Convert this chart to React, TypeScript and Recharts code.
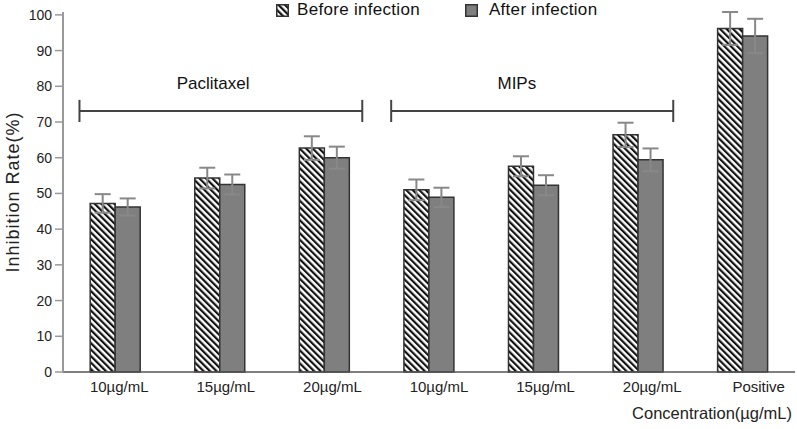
import React from 'react';
import { BarChart, Bar, XAxis, YAxis, ErrorBar, ReferenceLine, ReferenceDot } from 'recharts';

const categories = ['10µg/mL', '15µg/mL', '20µg/mL', '10µg/mL', '15µg/mL', '20µg/mL', 'Positive'];
const beforeValues = [47.2, 54.3, 62.7, 51.0, 57.6, 66.4, 96.2];
const afterValues = [46.2, 52.5, 60.0, 48.9, 52.3, 59.4, 94.1];
const beforeErrors = [2.6, 2.9, 3.3, 2.9, 2.8, 3.4, 4.6];
const afterErrors = [2.4, 2.8, 3.1, 2.7, 2.8, 3.2, 4.8];
const yTicks = [0, 10, 20, 30, 40, 50, 60, 70, 80, 90, 100];
const groupLabels = ['Paclitaxel', 'MIPs'];
// positions along the hidden numeric axis (spans the plot width)
const groupStarts = [0.135, 2.69];
const groupEnds = [2.453, 5.002];
const groupLabelPos = [1.23, 3.72];
const groupLabelValue = 81;
const bracketValue = 73.1;
const bracketHalf = 3.1;

const data = categories.map((name, i) => ({
  name,
  before: beforeValues[i],
  after: afterValues[i],
  beforeErr: beforeErrors[i],
  afterErr: afterErrors[i],
}));

const FONT = '"Liberation Sans", Arial, sans-serif';

const XTick = (props: any) => {
  const { x, y, payload, index } = props;
  const dx = 4 + index * 2;
  return (
    <text x={x + dx} y={y} dy={12} textAnchor="middle" fontSize={15} fontFamily={FONT} fill="#222">
      {payload.value}
    </text>
  );
};

export default function App() {
  return (
    <div style={{ position: 'absolute', left: 0, top: 0, width: 797, height: 429, background: '#fff' }}>
      <BarChart
        width={797}
        height={429}
        data={data}
        margin={{ top: 12, right: 2, bottom: 7, left: 0 }}
        barGap={0}
        barCategoryGap="26%"
      >
        <defs>
          <pattern id="hatch" patternUnits="userSpaceOnUse" width={4.6} height={4.6} patternTransform="rotate(-45)">
            <rect x={0} y={0} width={4.6} height={4.6} fill="#fff" />
            <rect x={0} y={0} width={2.2} height={4.6} fill="#111" />
          </pattern>
        </defs>
        <XAxis
          dataKey="name"
          tick={<XTick />}
          tickLine={false}
          axisLine={{ stroke: '#555', strokeWidth: 1.5 }}
          height={50}
          interval={0}
          label={{ value: 'Concentration(µg/mL)', position: 'insideBottomRight', offset: 3, fontSize: 16.5, fontFamily: FONT, fill: '#222' }}
        />
        <XAxis xAxisId="num" type="number" domain={[0, 6]} hide allowDataOverflow />
        <YAxis
          width={63}
          domain={[0, 100]}
          ticks={yTicks}
          interval={0}
          tickSize={8}
          tickMargin={3}
          tick={{ fontSize: 14, fontFamily: FONT, fill: '#222' }}
          tickLine={{ stroke: '#999', strokeWidth: 1.5 }}
          axisLine={{ stroke: '#999', strokeWidth: 2 }}
          label={{
            value: 'Inhibition Rate(%)',
            angle: -90,
            position: 'insideLeft',
            offset: 13,
            fontSize: 18,
            fontFamily: FONT,
            fill: '#222',
            style: { textAnchor: 'middle', letterSpacing: 1 },
          }}
        />
        <Bar dataKey="before" fill="url(#hatch)" stroke="#333" strokeWidth={1.5} isAnimationActive={false}>
          <ErrorBar dataKey="beforeErr" width={8} stroke="#888" strokeWidth={2} direction="y" />
        </Bar>
        <Bar dataKey="after" fill="#7f7f7f" stroke="#333" strokeWidth={1.5} isAnimationActive={false}>
          <ErrorBar dataKey="afterErr" width={8} stroke="#888" strokeWidth={2} direction="y" />
        </Bar>
        {groupLabels.map((g, i) => (
          <ReferenceLine
            key={'h' + i}
            xAxisId="num"
            segment={[
              { x: groupStarts[i], y: bracketValue },
              { x: groupEnds[i], y: bracketValue },
            ]}
            stroke="#444"
            strokeWidth={2}
          />
        ))}
        {groupLabels.map((g, i) => (
          <ReferenceLine
            key={'l' + i}
            xAxisId="num"
            segment={[
              { x: groupStarts[i], y: bracketValue - bracketHalf },
              { x: groupStarts[i], y: bracketValue + bracketHalf },
            ]}
            stroke="#444"
            strokeWidth={2}
          />
        ))}
        {groupLabels.map((g, i) => (
          <ReferenceLine
            key={'r' + i}
            xAxisId="num"
            segment={[
              { x: groupEnds[i], y: bracketValue - bracketHalf },
              { x: groupEnds[i], y: bracketValue + bracketHalf },
            ]}
            stroke="#444"
            strokeWidth={2}
          />
        ))}
        {groupLabels.map((g, i) => (
          <ReferenceDot
            key={'t' + i}
            xAxisId="num"
            x={groupLabelPos[i]}
            y={groupLabelValue}
            r={0}
            fill="none"
            stroke="none"
            label={{ value: g, position: 'center', fontSize: 17, fontFamily: FONT, fill: '#111' }}
          />
        ))}
      </BarChart>
      <div style={{ position: 'absolute', left: 276, top: 0, display: 'flex', alignItems: 'center', fontFamily: FONT, fontSize: 17, color: '#111' }}>
        <svg width={13} height={13} style={{ marginRight: 8 }}>
          <rect x={0.75} y={0.75} width={11.5} height={11.5} fill="url(#hatch)" stroke="#333" strokeWidth={1.5} />
        </svg>
        <span style={{ letterSpacing: 0.3 }}>Before infection</span>
        <svg width={13} height={13} style={{ marginLeft: 45, marginRight: 11 }}>
          <rect x={0.75} y={0.75} width={11.5} height={11.5} fill="#7f7f7f" stroke="#333" strokeWidth={1.5} />
        </svg>
        <span style={{ letterSpacing: 0.3 }}>After infection</span>
      </div>
    </div>
  );
}
